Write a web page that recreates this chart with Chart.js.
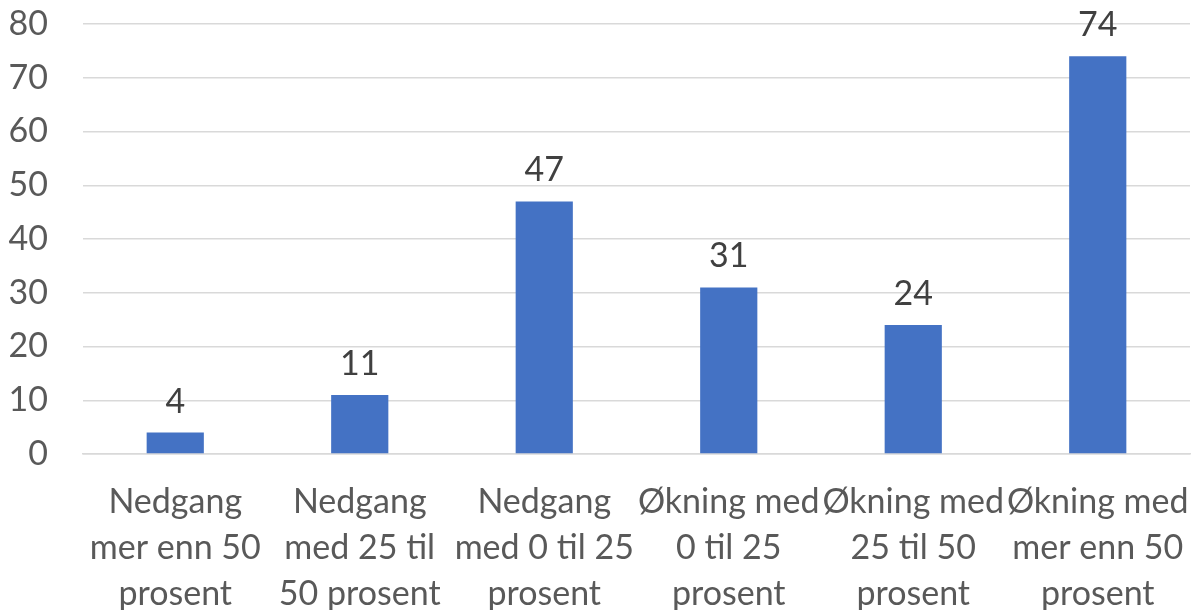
<!DOCTYPE html>
<html>
<head>
<meta charset="utf-8">
<script src="https://cdn.jsdelivr.net/npm/chart.js@4/dist/chart.umd.min.js"></script>
<style>
    html, body { margin: 0; padding: 0; background: #ffffff; }
    #wrap { width: 1191px; height: 610px; position: relative; }
</style>
</head>
<body>
<div id="wrap"><canvas id="barChart"></canvas></div>
<script>
// Chart data
const categories = [
    ['Nedgang', 'mer enn 50', 'prosent'],
    ['Nedgang', 'med 25 til', '50 prosent'],
    ['Nedgang', 'med 0 til 25', 'prosent'],
    ['Økning med', '0 til 25', 'prosent'],
    ['Økning med', '25 til 50', 'prosent'],
    ['Økning med', 'mer enn 50', 'prosent']
];
const values = [4, 11, 47, 31, 24, 74];
const yTicks = [0, 10, 20, 30, 40, 50, 60, 70, 80];

// Colors
const BAR_BLUE = '#4472C4';
const TEXT_GREY = '#595959';
const LABEL_GREY = '#404040';
const GRID_GREY = '#d9d9d9';
const FONT = 'Lato, "Open Sans", sans-serif';

// Draw value labels above each bar
const valueLabels = {
    id: 'valueLabels',
    afterDatasetsDraw(chart) {
        const ctx = chart.ctx;
        const meta = chart.getDatasetMeta(0);
        ctx.save();
        ctx.font = '34px ' + FONT;
        ctx.fillStyle = LABEL_GREY;
        ctx.textAlign = 'center';
        ctx.textBaseline = 'alphabetic';
        meta.data.forEach((bar, i) => {
            ctx.fillText(String(values[i]), bar.x, bar.y - 20);
        });
        ctx.restore();
    }
};

function createChart() {
    const ctx = document.getElementById('barChart').getContext('2d');
    return new Chart(ctx, {
        type: 'bar',
        data: {
            labels: categories,
            datasets: [{
                data: values,
                backgroundColor: BAR_BLUE,
                barPercentage: 0.31,
                categoryPercentage: 1.0
            }]
        },
        options: {
            responsive: true,
            maintainAspectRatio: false,
            animation: false,
            layout: { padding: { top: 24, right: 1, left: 0, bottom: 0 } },
            plugins: {
                legend: { display: false },
                tooltip: { enabled: false }
            },
            scales: {
                x: {
                    grid: { display: false, drawTicks: false },
                    border: { display: true, color: GRID_GREY, width: 1.5 },
                    ticks: {
                        color: TEXT_GREY,
                        font: { family: FONT, size: 34, lineHeight: 1.353 },
                        padding: 25,
                        maxRotation: 0,
                        autoSkip: false
                    },
                    afterFit(scale) {
                        scale.height = 156;
                        scale.paddingLeft = 0;
                        scale.paddingRight = 0;
                    }
                },
                y: {
                    min: 0,
                    max: 80,
                    afterBuildTicks(scale) {
                        scale.ticks = yTicks.map(v => ({ value: v }));
                    },
                    grid: { color: GRID_GREY, lineWidth: 1.5, drawTicks: false },
                    border: { display: false },
                    ticks: {
                        color: TEXT_GREY,
                        font: { family: FONT, size: 34 },
                        padding: 35
                    },
                    afterFit(scale) {
                        scale.width = 83;
                        scale.paddingTop = 0;
                        scale.paddingBottom = 0;
                    }
                }
            }
        },
        plugins: [valueLabels]
    });
}

document.addEventListener('DOMContentLoaded', createChart);
</script>
</body>
</html>
